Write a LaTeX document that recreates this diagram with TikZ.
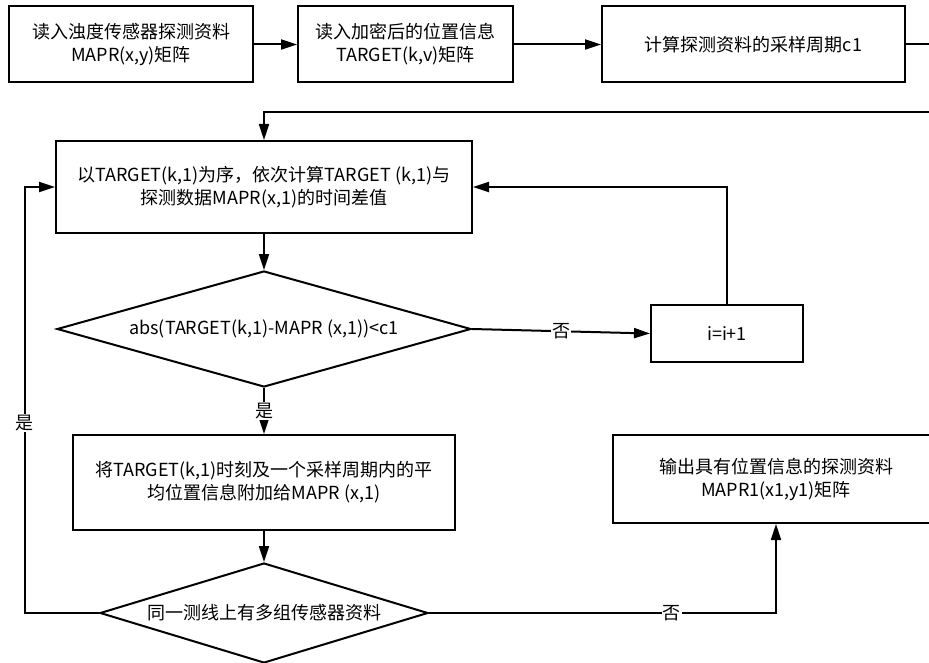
\documentclass[tikz,border=0pt]{standalone}
\usepackage{fontspec}
\setmainfont{Noto Sans CJK SC}
\usetikzlibrary{shapes.geometric,arrows.meta}

\begin{document}
\begin{tikzpicture}[x=1pt,y=-1pt,
  every node/.style={font=\fontsize{18}{23}\selectfont},
  box/.style={draw,line width=2pt,align=center,inner sep=0pt},
  cond/.style={draw,line width=2pt,diamond,inner sep=0pt},
  flow/.style={line width=2pt,-{Triangle[length=16pt,width=10pt]}},
  lbl/.style={fill=white,inner sep=1pt}]

\useasboundingbox (0,0) rectangle (929,663);

% ligne du haut
\node[box,minimum width=244,minimum height=76] (lire1) at (131,44.5) {读入浊度传感器探测资料\\MAPR(x,y)矩阵};
\node[box,minimum width=215,minimum height=76] (lire2) at (405.5,44.5) {读入加密后的位置信息\\TARGET(k,v)矩阵};
\node[box,minimum width=303,minimum height=76] (periode) at (753.5,44.5) {计算探测资料的采样周期c1};

\draw[flow] (lire1) -- (lire2);
\draw[flow] (lire2) -- (periode);

% boucle
\node[box,minimum width=416,minimum height=92] (ecart) at (264,187) {以TARGET(k,1)为序，依次计算TARGET (k,1)与\\探测数据MAPR(x,1)的时间差值};
\node[cond,aspect=3.57,minimum width=414,minimum height=116] (test1) at (264,329) {abs(TARGET(k,1)-MAPR (x,1))<c1};
\node[box,minimum width=152,minimum height=57] (incr) at (727,333.5) {i=i+1};
\node[box,minimum width=382,minimum height=95] (ajout) at (264,482.5) {将TARGET(k,1)时刻及一个采样周期内的平\\均位置信息附加给MAPR (x,1)};
\node[cond,aspect=3.28,minimum width=328,minimum height=100] (test2) at (264,613) {同一测线上有多组传感器资料};
\node[box,minimum width=326,minimum height=88] (sortie) at (776,479) {输出具有位置信息的探测资料\\MAPR1(x1,y1)矩阵};

\coordinate (bord) at (945,44.5);

\draw[flow] (periode.east) -- (bord) |- (940,112) -| (ecart.north);
\draw[flow] (ecart) -- (test1);
\draw[flow] (test1.east) -- node[lbl,pos=0.5] {否} (incr.west);
\draw[flow] (incr.north) |- (ecart.east);
\draw[flow] (test1) -- node[lbl] {是} (ajout);
\draw[flow] (ajout) -- (test2);

% sorties du second test
\draw[flow] (test2.west) -| (25,400) node[lbl,pos=1,yshift=-23] {是} |- (ecart.west);
\draw[flow] (test2.east) -| node[lbl,pos=0.35] {否} (sortie.south);

\end{tikzpicture}
\end{document}
